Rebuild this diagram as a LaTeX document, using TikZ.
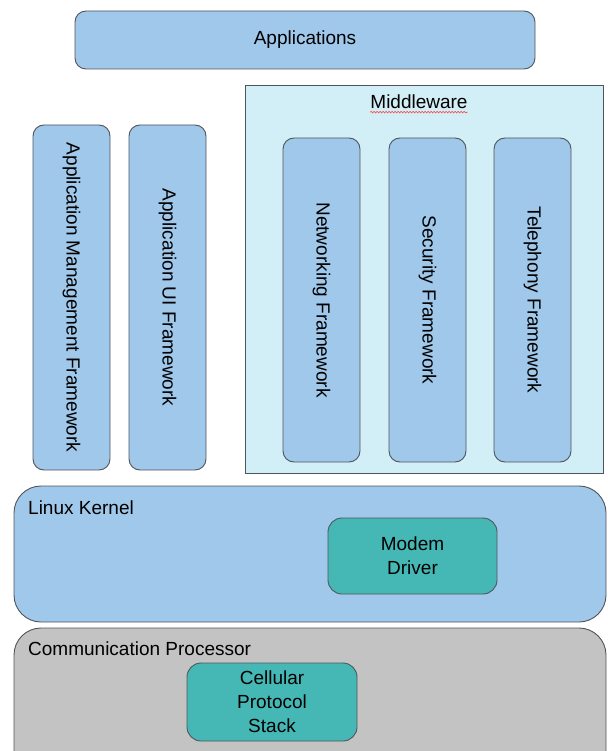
\documentclass[tikz,border=0pt]{standalone}
\usepackage{fontspec}
\setmainfont{Liberation Sans}
\usetikzlibrary{decorations.pathmorphing,calc}
\definecolor{boxblue}{RGB}{160,200,235}
\definecolor{teal2}{RGB}{69,184,182}
\definecolor{cpgray}{RGB}{195,195,195}
\definecolor{mwcyan}{RGB}{210,238,246}
\definecolor{edge}{RGB}{80,85,90}
\tikzset{
  blk/.style={draw=edge, line width=0.9pt, fill=boxblue, rounded corners=11pt, inner sep=0pt, font=\fontsize{19}{24}\selectfont},
  tealbox/.style={draw=edge, line width=0.9pt, fill=teal2, rounded corners=14pt, inner sep=0pt, align=center, font=\fontsize{19}{24}\selectfont},
  big/.style={draw=edge, line width=0.9pt, rounded corners=27pt, inner sep=0pt},
  lbl/.style={anchor=west, inner sep=0pt, font=\fontsize{19}{24}\selectfont},
  vbox/.style={blk, rotate=-90, minimum height=77pt}
}
\begin{document}
\begin{tikzpicture}[x=1pt,y=-1pt]
\useasboundingbox (0,0) rectangle (607,751);
\clip (0,0) rectangle (607,751);
\fill[white] (0,0) rectangle (607,751);
% Applications
\node[blk, minimum width=460pt, minimum height=58pt] (apps) at (305,40) {Applications};
% Middleware
\node[draw=edge, line width=0.9pt, fill=mwcyan, minimum width=358pt, minimum height=388pt, inner sep=0pt] (mw) at (424,279) {};
\node[inner sep=0pt, font=\fontsize{19}{24}\selectfont] (mwl) at (419,102) {Middleware};
\coordinate (w1) at ($(mwl.south west)+(0,3)$);
\coordinate (w2) at ($(mwl.south east)+(0,3)$);
\draw[red!80, line width=0.5pt, decorate, decoration={snake, amplitude=0.8pt, segment length=3pt}] (w1) -- (w2);
\node[vbox, minimum width=324pt] (net) at (321.5,300) {Networking Framework};
\node[vbox, minimum width=324pt] (sec) at (427.5,300) {Security Framework};
\node[vbox, minimum width=324pt] (tel) at (532.5,300) {Telephony Framework};
% left frameworks
\node[vbox, minimum width=345pt] (amf) at (71.5,297.5) {Application Management Framework};
\node[vbox, minimum width=345pt] (auf) at (167.5,297.5) {Application UI Framework};
% Linux kernel
\node[big, fill=boxblue, minimum width=592pt, minimum height=136pt] (lk) at (310,554) {};
\node[lbl] (lkl) at (28,508) {Linux Kernel};
\node[tealbox, minimum width=169pt, minimum height=76pt] (md) at (412.5,556) {Modem\\Driver};
% Communication processor
\node[big, fill=cpgray, minimum width=592pt, minimum height=152pt] (cp) at (310,704) {};
\node[lbl] (cpl) at (28,649) {Communication Processor};
\node[tealbox, minimum width=170pt, minimum height=78pt] (cps) at (272,702) {Cellular\\Protocol\\Stack};
\end{tikzpicture}
\end{document}
